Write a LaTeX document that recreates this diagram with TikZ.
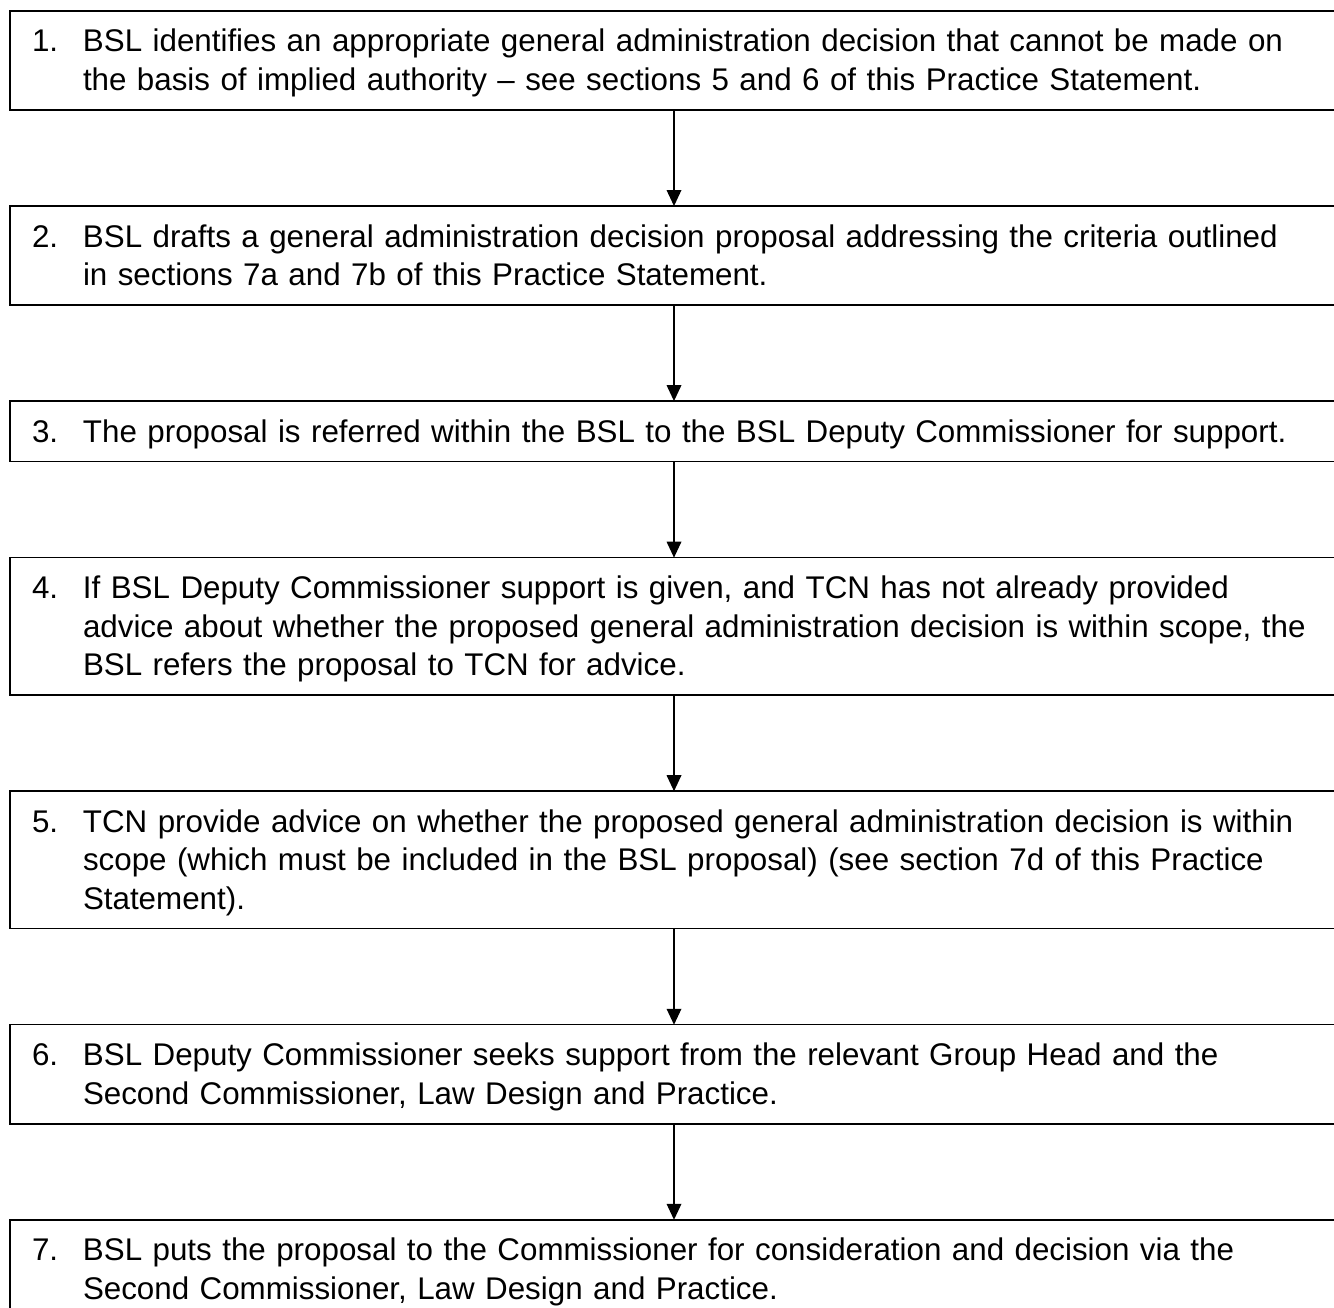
\documentclass[tikz,border=0pt]{standalone}
\usepackage{fontspec}
\setmainfont{Liberation Sans}
\usetikzlibrary{positioning,arrows.meta}

\newcommand\steptext[2]{\noindent\makebox[38.25pt][l]{#1}%
  \begin{tabular}[t]{@{}l@{}}\rule{0pt}{24.75pt}#2\end{tabular}}

\begin{document}
\begin{tikzpicture}[x=0.75pt,y=-0.75pt,
    stepbox/.style={draw, line width=1.1pt, anchor=north west, outer sep=0pt,
      text width=963pt, align=left, inner xsep=16.5pt, inner ysep=6pt,
      font=\fontsize{23.5pt}{28.875pt}\selectfont},
    flowarrow/.style={line width=1pt, -{Triangle[width=11pt,length=12pt]}}]
  \useasboundingbox (0,0) rectangle (1334,1308);
  \clip (0,0) rectangle (1334,1308);

  \node[stepbox] (b1) at (10,11) {\steptext{1.}{BSL identifies an appropriate general administration decision that cannot be made on\\
    the basis of implied authority -- see sections 5 and 6 of this Practice Statement.}};
  \node[stepbox, below=72pt of b1.south west, anchor=north west] (b2) {\steptext{2.}{BSL drafts a general administration decision proposal addressing the criteria outlined\\
    in sections 7a and 7b of this Practice Statement.}};
  \node[stepbox, below=72pt of b2.south west, anchor=north west] (b3) {\steptext{3.}{The proposal is referred within the BSL to the BSL Deputy Commissioner for support.}};
  \node[stepbox, below=72pt of b3.south west, anchor=north west] (b4) {\steptext{4.}{If BSL Deputy Commissioner support is given, and TCN has not already provided\\
    advice about whether the proposed general administration decision is within scope, the\\
    BSL refers the proposal to TCN for advice.}};
  \node[stepbox, below=72pt of b4.south west, anchor=north west] (b5) {\steptext{5.}{TCN provide advice on whether the proposed general administration decision is within\\
    scope (which must be included in the BSL proposal) (see section 7d of this Practice\\
    Statement).}};
  \node[stepbox, below=72pt of b5.south west, anchor=north west] (b6) {\steptext{6.}{BSL Deputy Commissioner seeks support from the relevant Group Head and the\\
    Second Commissioner, Law Design and Practice.}};
  \node[stepbox, below=72pt of b6.south west, anchor=north west] (b7) {\steptext{7.}{BSL puts the proposal to the Commissioner for consideration and decision via the\\
    Second Commissioner, Law Design and Practice.}};

  \foreach \a/\b in {b1/b2,b2/b3,b3/b4,b4/b5,b5/b6,b6/b7}
    \draw[flowarrow] (\a) -- (\b);
\end{tikzpicture}
\end{document}
